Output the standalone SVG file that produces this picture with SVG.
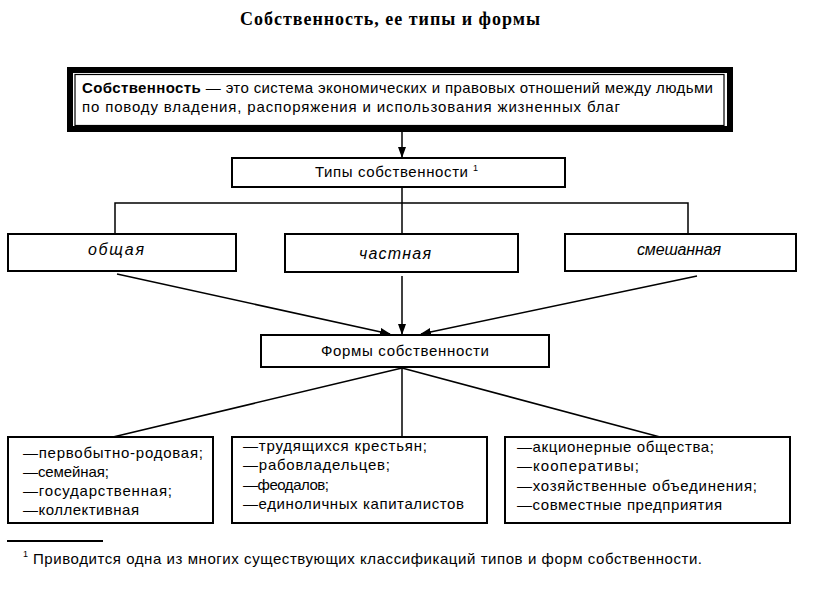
<svg xmlns="http://www.w3.org/2000/svg" width="818" height="595" viewBox="0 0 818 595">
<style>
.b{fill:#fff;stroke:#000;stroke-width:2}
.t{font-family:"Liberation Sans",Arial,sans-serif;font-size:15px;fill:#000}
.i{font-style:italic;font-size:16px}
.l{stroke:#000;stroke-width:1.5;fill:none}
.s{font-family:"Liberation Sans",Arial,sans-serif;font-size:9px;fill:#000}
</style>
<defs>
<marker id="ar" markerWidth="11" markerHeight="8" refX="10" refY="4" orient="auto" markerUnits="userSpaceOnUse">
<path d="M0,0 L11,4 L0,8 z" fill="#000"/>
</marker>
</defs>
<rect width="818" height="595" fill="#fff"/>
<text x="240" y="25" textLength="300" lengthAdjust="spacing" font-family="Liberation Serif,serif" font-weight="bold" font-size="18">Собственность, ее типы и формы</text>

<g id="connectors">
<line class="l" x1="402" y1="132" x2="402" y2="157" marker-end="url(#ar)"/>
<line class="l" x1="402" y1="188" x2="402" y2="234"/>
<polyline class="l" points="115,234 115,203 688,203 688,234"/>
<line class="l" x1="117" y1="274" x2="390" y2="334" marker-end="url(#ar)"/>
<line class="l" x1="402" y1="276" x2="402" y2="334" marker-end="url(#ar)"/>
<line class="l" x1="697" y1="276" x2="421" y2="334" marker-end="url(#ar)"/>
<line class="l" x1="402" y1="368" x2="113" y2="437"/>
<line class="l" x1="402" y1="368" x2="402" y2="437"/>
<line class="l" x1="402" y1="368" x2="660" y2="437"/>
</g>

<g id="def">
<rect x="70" y="70" width="660" height="59" fill="#fff" stroke="#000" stroke-width="6"/>
<rect x="75" y="74.5" width="649" height="51" fill="none" stroke="#000" stroke-width="1.2"/>
<text class="t" x="82" y="93" textLength="631" lengthAdjust="spacing"><tspan font-weight="bold">Собственность</tspan> — это система экономических и правовых отношений между людьми</text>
<text class="t" x="82" y="112" textLength="538" lengthAdjust="spacing">по поводу владения, распоряжения и использования жизненных благ</text>
</g>

<g id="types">
<rect class="b" x="232" y="158" width="333" height="29"/>
<text class="t" x="315" y="177" textLength="153" lengthAdjust="spacing">Типы собственности</text>
<text class="s" x="473" y="171">1</text>
</g>

<g id="common">
<rect class="b" x="8" y="234" width="228" height="37"/>
<text class="t i" x="88" y="255" textLength="56" lengthAdjust="spacing">общая</text>
</g>
<g id="private">
<rect class="b" x="285" y="234" width="233" height="38"/>
<text class="t i" x="359" y="259" textLength="72" lengthAdjust="spacing">частная</text>
</g>
<g id="mixed">
<rect class="b" x="565" y="234" width="231" height="37"/>
<text class="t i" x="637" y="255" textLength="84" lengthAdjust="spacing">смешанная</text>
</g>

<g id="forms">
<rect class="b" x="261" y="335" width="288" height="32"/>
<text class="t" x="321" y="356" textLength="168" lengthAdjust="spacing">Формы собственности</text>
</g>

<g id="forms1">
<rect class="b" x="8" y="437" width="205" height="86"/>
<text class="t" x="23" y="458" textLength="180" lengthAdjust="spacing">—первобытно-родовая;</text>
<text class="t" x="23" y="477" textLength="86" lengthAdjust="spacing">—семейная;</text>
<text class="t" x="23" y="496" textLength="149" lengthAdjust="spacing">—государственная;</text>
<text class="t" x="23" y="515" textLength="116" lengthAdjust="spacing">—коллективная</text>
</g>
<g id="forms2">
<rect class="b" x="232" y="437" width="255" height="86"/>
<text class="t" x="243" y="451" textLength="184" lengthAdjust="spacing">—трудящихся крестьян;</text>
<text class="t" x="243" y="470" textLength="147" lengthAdjust="spacing">—рабовладельцев;</text>
<text class="t" x="243" y="490" textLength="86" lengthAdjust="spacing">—феодалов;</text>
<text class="t" x="243" y="509" textLength="221" lengthAdjust="spacing">—единоличных капиталистов</text>
</g>
<g id="forms3">
<rect class="b" x="505" y="437" width="285" height="86"/>
<text class="t" x="517" y="452" textLength="197" lengthAdjust="spacing">—акционерные общества;</text>
<text class="t" x="517" y="471" textLength="122" lengthAdjust="spacing">—кооперативы;</text>
<text class="t" x="517" y="491" textLength="240" lengthAdjust="spacing">—хозяйственные объединения;</text>
<text class="t" x="517" y="510" textLength="205" lengthAdjust="spacing">—совместные предприятия</text>
</g>

<line x1="7" y1="541" x2="103" y2="541" stroke="#000" stroke-width="2"/>
<text class="s" x="23" y="557">1</text>
<text class="t" x="33" y="564" textLength="669" lengthAdjust="spacing">Приводится одна из многих существующих классификаций типов и форм собственности.</text>
</svg>
